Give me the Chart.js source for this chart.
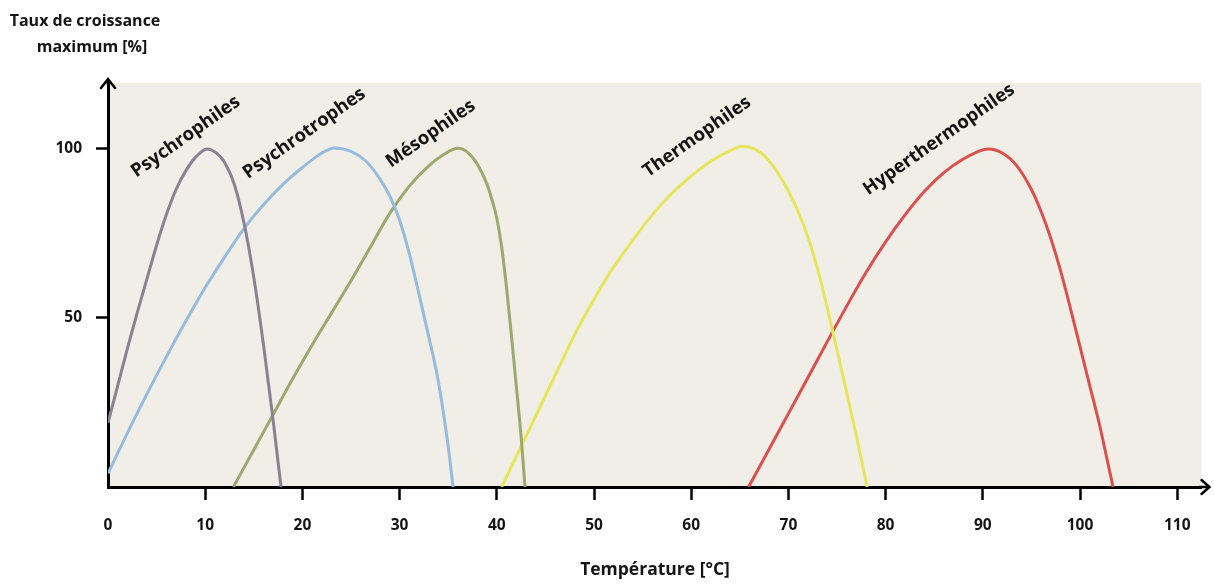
<!DOCTYPE html>
<html>
<head>
<meta charset="utf-8">
<script src="https://cdn.jsdelivr.net/npm/chart.js@4.4.1/dist/chart.umd.min.js"></script>
<style>
  html, body { margin: 0; padding: 0; background: #fff; }
  #wrap { width: 1214px; height: 585px; position: relative; }
</style>
</head>
<body>
<div id="wrap"><canvas id="chartCroissance"></canvas></div>
<script>
// valeurs : [température °C, taux de croissance %]
const seriesNames = ['Psychrophiles', 'Psychrotrophes', 'Mésophiles', 'Thermophiles', 'Hyperthermophiles'];

const psychrophiles = [[0, 19], [1, 30], [2, 41], [3, 51.5], [4, 61.5], [5, 71.5], [6, 80.5], [7, 88], [8, 93.5],
    [9, 97.5], [10.2, 100], [11.2, 98.7], [12, 96], [13, 89.5], [14, 78], [15, 62], [16, 42], [17, 19.5], [17.8, 0]];
const psychrotrophes = [[0, 4], [2, 16], [4, 27.5], [6, 38.5], [8, 49], [10, 59], [12, 68], [14, 76.5], [16, 83.5],
    [18, 89.5], [20, 94.5], [22, 98.8], [23.3, 100.3], [25, 99.3], [26.5, 96.5], [28, 91], [29, 86], [30, 79],
    [31, 69], [32, 57], [33, 44.5], [34, 31], [35, 12], [35.5, 0]];
const mesophiles = [[12.9, 0], [15, 11], [17, 21.5], [19, 32], [21, 42], [23, 51.5], [25, 61], [27, 71], [29, 81],
    [31, 89], [33, 95], [34.5, 98.3], [36, 100.2], [37, 99], [38, 95.5], [39, 89.5], [39.5, 85], [40, 79.5],
    [40.5, 71], [41, 59], [41.5, 45], [42, 30], [42.5, 15], [42.9, 0]];
const thermophiles = [[40.5, 0], [42, 9], [44, 21], [46, 33], [48, 45], [50, 55.5], [52, 65], [54, 73], [56, 80.5],
    [58, 86.8], [60, 92], [62, 96.3], [64, 99.5], [65.3, 100.8], [66.5, 100], [68, 96.5], [69, 92.5], [70, 87.5],
    [71, 81.5], [72, 74], [73, 64.5], [74, 53], [75, 40.5], [76, 28], [77, 15], [78.1, 0]];
const hyperthermophiles = [[65.9, 0], [68, 11.1], [70, 21.7], [72, 32.3], [74, 43], [76, 53.5], [78, 63.5],
    [80, 72.5], [82, 80.5], [84, 87.5], [86, 93], [88, 97], [90, 99.7], [90.6, 100], [92, 98.8], [93.5, 95],
    [95, 88], [96, 81.5], [97, 73.5], [98, 64], [99, 53], [100, 41.5], [101, 30], [102, 18.5], [102.8, 8],
    [103.4, 0]];

const xTicks = [0, 10, 20, 30, 40, 50, 60, 70, 80, 90, 100, 110];
const yTicks = [50, 100];

const yTitle = ['Taux de croissance', 'maximum [%]'];
const xTitle = 'Température [°C]';

document.addEventListener('DOMContentLoaded', () => {
    const colors = ['#8a8192', '#97bbdc', '#9ea86e', '#e6e65c', '#d9504f'];
    const allSeries = [psychrophiles, psychrotrophes, mesophiles, thermophiles, hyperthermophiles];
    const ink = '#141414';
    const fontFam = '"Open Sans", Lato, sans-serif';

    // étiquettes inclinées (position en coordonnées des données)
    const labelAt = [[8.0, 103.6], [20.2, 104.6], [33.2, 104.5], [60.6, 103.6], [85.5, 102.8]];

    const decor = {
        id: 'decor',
        beforeDraw(chart) {
            const { ctx, chartArea: a } = chart;
            ctx.save();
            ctx.fillStyle = '#f0eee6';
            ctx.fillRect(a.left, a.top, a.right - a.left, a.bottom - a.top);
            ctx.restore();
        },
        afterDraw(chart) {
            const { ctx, chartArea: a, scales } = chart;
            ctx.save();
            ctx.strokeStyle = '#000';
            ctx.lineWidth = 2.5;
            ctx.lineCap = 'round';
            // flèche axe x
            ctx.beginPath();
            ctx.moveTo(a.right - 2, a.bottom);
            ctx.lineTo(a.right + 8, a.bottom);
            ctx.moveTo(a.right, a.bottom - 7);
            ctx.lineTo(a.right + 8, a.bottom);
            ctx.lineTo(a.right, a.bottom + 7);
            ctx.stroke();
            // flèche axe y
            ctx.beginPath();
            ctx.moveTo(a.left, a.top + 2);
            ctx.lineTo(a.left, a.top - 4);
            ctx.moveTo(a.left - 7, a.top + 5);
            ctx.lineTo(a.left, a.top - 4);
            ctx.lineTo(a.left + 7, a.top + 5);
            ctx.stroke();

            ctx.fillStyle = ink;
            ctx.textAlign = 'center';
            ctx.textBaseline = 'middle';
            ctx.font = 'bold 16px ' + fontFam;
            ctx.fillText(yTitle[0], 85, 21);
            ctx.fillText(yTitle[1], 92, 47);
            ctx.font = 'bold 17.5px ' + fontFam;
            ctx.fillText(xTitle, 655, 570);

            ctx.font = 'bold 18.5px ' + fontFam;
            seriesNames.forEach((name, i) => {
                const px = scales.x.getPixelForValue(labelAt[i][0]);
                const py = scales.y.getPixelForValue(labelAt[i][1]);
                ctx.save();
                ctx.translate(px, py);
                ctx.rotate(-35 * Math.PI / 180);
                ctx.fillText(name, 0, 0);
                ctx.restore();
            });
            ctx.restore();
        }
    };

    const ctx = document.getElementById('chartCroissance').getContext('2d');
    new Chart(ctx, {
        type: 'line',
        data: {
            datasets: allSeries.map((pts, i) => ({
                label: seriesNames[i],
                data: pts.map(p => ({ x: p[0], y: p[1] })),
                borderColor: colors[i],
                borderWidth: 3,
                pointRadius: 0,
                fill: false,
                cubicInterpolationMode: 'monotone'
            }))
        },
        options: {
            responsive: true,
            maintainAspectRatio: false,
            animation: false,
            layout: { padding: { top: 83, right: 12.5, left: 0, bottom: 0 } },
            plugins: { legend: { display: false }, tooltip: { enabled: false } },
            scales: {
                x: {
                    type: 'linear',
                    min: 0,
                    max: 112.5,
                    afterBuildTicks: axis => { axis.ticks = xTicks.map(v => ({ value: v })); },
                    afterFit: axis => { axis.height = 98; },
                    grid: {
                        drawOnChartArea: false,
                        tickLength: 13,
                        tickWidth: 2.5,
                        tickColor: c => (c.tick && c.tick.value === 0) ? 'rgba(0,0,0,0)' : '#000'
                    },
                    border: { display: true, color: '#000', width: 3 },
                    ticks: {
                        padding: 16,
                        color: ink,
                        font: { family: fontFam, size: 15.5, weight: 'bold' },
                        maxRotation: 0
                    }
                },
                y: {
                    min: 0,
                    max: 119.5,
                    afterBuildTicks: axis => { axis.ticks = yTicks.map(v => ({ value: v })); },
                    afterFit: axis => { axis.width = 108; },
                    grid: {
                        drawOnChartArea: false,
                        tickLength: 12,
                        tickWidth: 2.5,
                        tickColor: '#000'
                    },
                    border: { display: true, color: '#000', width: 3 },
                    ticks: {
                        padding: 14,
                        color: ink,
                        font: { family: fontFam, size: 15.5, weight: 'bold' }
                    }
                }
            }
        },
        plugins: [decor]
    });
});
</script>
</body>
</html>
